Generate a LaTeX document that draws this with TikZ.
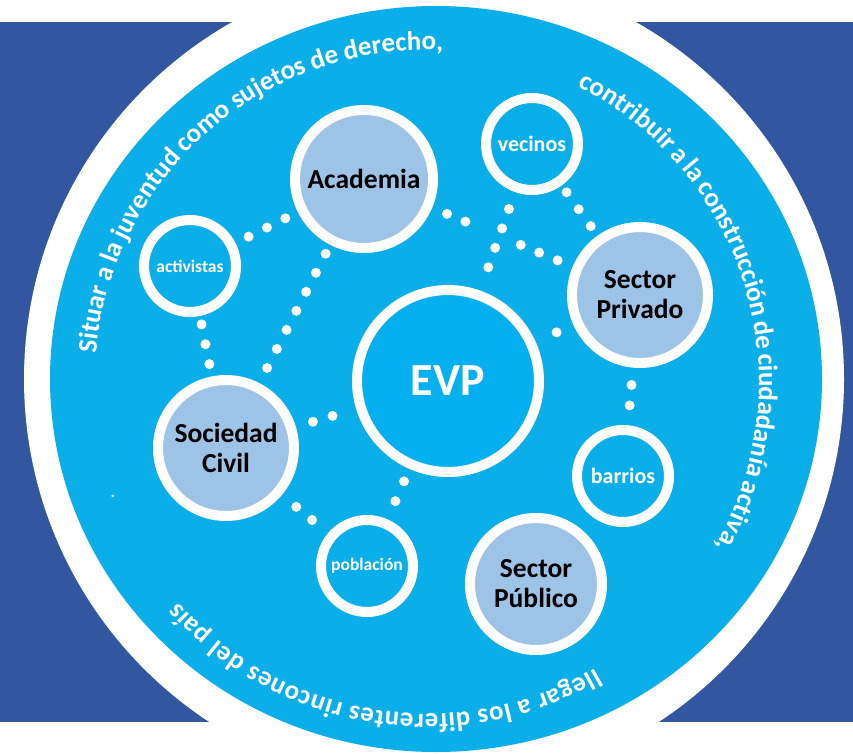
\documentclass[tikz,border=0pt]{standalone}
\usepackage{fontspec}
\setmainfont{Carlito}
\newfontfamily\arcfamily[WordSpace=0.4]{Carlito}
\usetikzlibrary{decorations.text}

\definecolor{deepblue}{HTML}{3257A0}
\definecolor{skyblue}{HTML}{0AAEE8}
\definecolor{hubblue}{HTML}{04B0EF}
\definecolor{paleblue}{HTML}{9DC3E6}

\newcommand{\arcfont}{\arcfamily\bfseries\fontsize{27}{32}\selectfont}
\newcommand{\lowarcfont}{\bfseries\fontsize{27}{32}\selectfont}

\begin{document}
\begin{tikzpicture}[x=1pt, y=-1pt,
    ring/.style={circle, draw=white, line width=10pt, inner sep=0pt, outer sep=5pt},
    hub/.style={ring, fill=hubblue, minimum size=182pt, text=white, font=\bfseries\fontsize{46}{50}\selectfont},
    sector/.style={ring, fill=paleblue, text=black, align=center, font=\bfseries\fontsize{27.5}{30}\selectfont},
    actor/.style={ring, minimum size=92pt, text=white, font=\bfseries\fontsize{22}{24}\selectfont},
    smallactor/.style={actor, font=\bfseries\fontsize{17.5}{20}\selectfont},
    dotlink/.style={draw=white, line width=10pt, line cap=round, dash pattern=on 0pt off #1},
    dotlink/.default=20.5pt,
    arctext/.style={decorate, decoration={text along path, text color=white, text align={fit to path stretching spaces}, text={|\arcfont|#1}}},
    lowarctext/.style={decorate, decoration={text along path, text color=white, text align={fit to path}, text={|\lowarcfont|#1}}}
]
        \useasboundingbox (0,0) rectangle (853,754);
        \clip (0,0) rectangle (853,754);

        % Draw background
        \fill[deepblue] (0,22) rectangle (853,722);
        \fill[white] (434,379) circle[radius=410];
        \fill[skyblue] (436,379) ellipse[x radius=386, y radius=373];

        % Draw text round the disc
        \path[arctext={Situar a la juventud como sujetos de derecho,}]
            (427,382) ++(185:332) arc[start angle=185, end angle=272.7, radius=332];
        \path[arctext={contribuir a la construcción de ciudadanía activa,}]
            (427,382) ++(297:332) arc[start angle=297, end angle=389.8, radius=332];
        \path[lowarctext={llegar a los diferentes rincones del país}]
            (427,382) ++(59.6:332) arc[start angle=59.6, end angle=138.4, radius=332];
        \node[text=white, font=\fontsize{20}{20}\selectfont] (speck) at (113,496) {.};

        % Draw vertices
        \node[hub] (evp) at (448,381) {EVP};
        \node[sector, minimum size=138pt] (aca) at (364,179) {Academia};
        \node[sector, minimum size=136pt] (priv) at (640,295) {Sector\\Privado};
        \node[sector, minimum size=136pt] (soc) at (226,448) {Sociedad\\Civil};
        \node[sector, minimum size=132pt] (pub) at (536,584) {Sector\\Público};
        \node[actor] (vec) at (532,144) {vecinos};
        \node[smallactor] (act) at (190,266) {activistas};
        \node[actor] (bar) at (623,476) {barrios};
        \node[smallactor] (pob) at (367,566) {población};

        % Draw edges
        \draw[dotlink, shorten <=14pt, shorten >=11.5pt] (aca) -- (act);
        \draw[dotlink=21.4pt, shorten <=10pt, shorten >=14pt] (aca) -- (soc);
        \draw[dotlink=20.25pt, shorten <=8.5pt, shorten >=9.5pt] (act) -- (soc);
        \draw[dotlink, dash pattern=on 0pt off 20pt on 0pt off 60pt on 0pt off 20pt on 0pt off 20pt,
            shorten <=16pt, shorten >=13pt] (aca) -- (priv);

        \draw[dotlink=20.6pt, shorten <=18pt, shorten >=17pt] (vec) -- (evp);
        \draw[dotlink=20.8pt, shorten <=8.4pt, shorten >=8.6pt] (vec) -- (priv);
        \draw[dotlink, shorten <=18.4pt, shorten >=15pt] (priv) -- (evp);
        \draw[dotlink, shorten <=17.4pt, shorten >=16.6pt] (priv) -- (bar);

        \draw[dotlink, shorten <=17.8pt, shorten >=16.6pt] (soc) -- (evp);
        \draw[dotlink, shorten <=18.7pt, shorten >=18.3pt] (soc) -- (pob);
        \draw[dotlink=21.6pt, shorten <=13.6pt, shorten >=11.8pt] (evp) -- (pob);
    \end{tikzpicture}
\end{document}
